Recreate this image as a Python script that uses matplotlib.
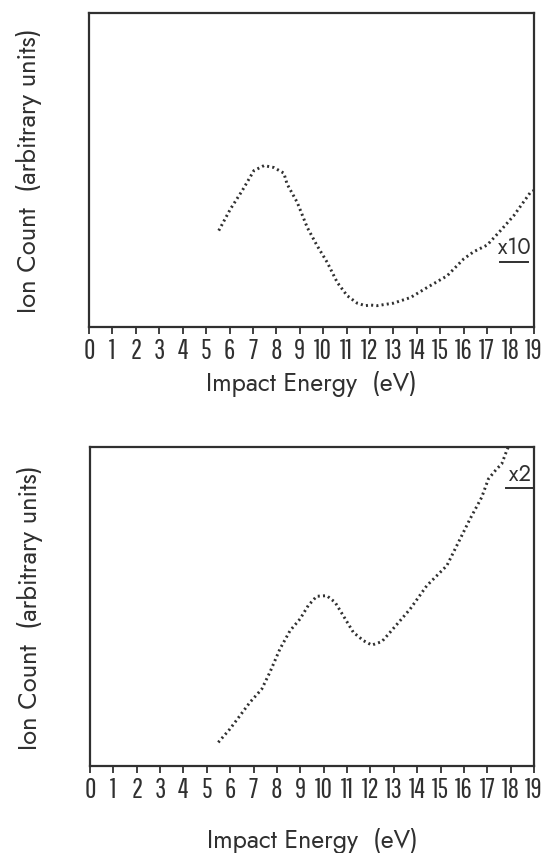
import matplotlib
matplotlib.use("Agg")
import matplotlib.pyplot as plt
from matplotlib import font_manager

# ion yield vs impact energy, arbitrary units (0-100 of the frame height)
energy_top = [5.54, 6.04, 6.54, 7.04, 7.47, 7.89, 8.32, 8.46, 8.89, 9.32, 9.74,
              10.17, 10.6, 11.02, 11.45, 11.8, 12.02, 12.3, 12.73, 13.0, 13.73,
              14.44, 15.29, 16.0, 16.43, 17.0, 17.57, 18.14, 18.85, 19.0]
count_top = [30.7, 37.6, 43.4, 49.8, 51.4, 50.8, 49.0, 45.5, 39.7, 31.7, 25.9,
             20.6, 14.2, 10.0, 7.6, 6.8, 7.0, 6.8, 7.3, 7.6, 9.4,
             12.6, 16.3, 21.7, 24.0, 26.1, 30.7, 35.5, 42.9, 43.5]

energy_bot = [5.49, 5.99, 6.42, 6.85, 7.35, 7.7, 8.13, 8.56, 8.99, 9.34, 9.7,
              10.13, 10.49, 10.84, 11.27, 11.7, 12.06, 12.49, 12.84, 13.7, 14.41,
              15.27, 15.84, 16.26, 16.76, 17.05, 17.4, 17.62, 17.83, 17.9]
count_bot = [7.4, 11.6, 15.8, 20.0, 24.1, 29.4, 36.7, 42.4, 46.1, 50.3, 53.2,
             53.4, 51.3, 47.1, 41.9, 39.3, 37.9, 39.0, 41.9, 49.2, 56.5,
             62.8, 71.2, 77.4, 84.2, 90.0, 93.1, 94.7, 98.8, 100.0]

xticks = list(range(0, 20))
scale_labels = ["x10", "x2"]
scale_pos = [(18.15, 20.8), (18.41, 87.0)]


def pick_font(candidates, fallback):
    have = {f.name for f in font_manager.fontManager.ttflist}
    for name in candidates:
        if name in have:
            return name
    return fallback


label_font = pick_font(["Jost", "Didact Gothic", "Questrial"], "Lato")
digit_font = pick_font(["Pathway Gothic One", "Antonio"], "DejaVu Sans")
ink = "#303030"

fig = plt.figure(figsize=(5.45, 8.54), dpi=100)
ax_top = fig.add_axes([0.1633, 0.6159, 0.8165, 0.3677])
ax_bot = fig.add_axes([0.1651, 0.1019, 0.8147, 0.3735])

panels = [(ax_top, energy_top, count_top), (ax_bot, energy_bot, count_bot)]
for i, (ax, x, y) in enumerate(panels):
    ax.plot(x, y, color=ink, lw=2.1, linestyle=(0, (0.7, 1.1)),
            dash_capstyle="butt")
    ax.set_xlim(0, 19)
    ax.set_ylim(0, 100)
    ax.set_xticks(xticks)
    ax.set_xticklabels([str(t) for t in xticks], family=digit_font,
                       fontsize=20, color=ink)
    ax.set_yticks([])
    ax.tick_params(axis="x", direction="out", length=5, width=1.3,
                   color=ink, pad=2)
    for sp in ax.spines.values():
        sp.set_linewidth(1.6)
        sp.set_color(ink)
    ax.set_xlabel("Impact Energy  (eV)", family=label_font, fontsize=18,
                  color=ink, labelpad=5 if i == 0 else 18)
    ax.set_ylabel("Ion Count  (arbitrary units)", family=label_font,
                  fontsize=18.5, color=ink, labelpad=34)
    tx, ty = scale_pos[i]
    ax.text(tx, ty + 1.2, scale_labels[i], family=label_font, fontsize=16,
            color=ink, ha="center", va="bottom")
    ax.plot([tx - 0.6, tx + 0.6], [ty, ty], color=ink, lw=1.4)

fig.savefig("out.png", dpi=100)
